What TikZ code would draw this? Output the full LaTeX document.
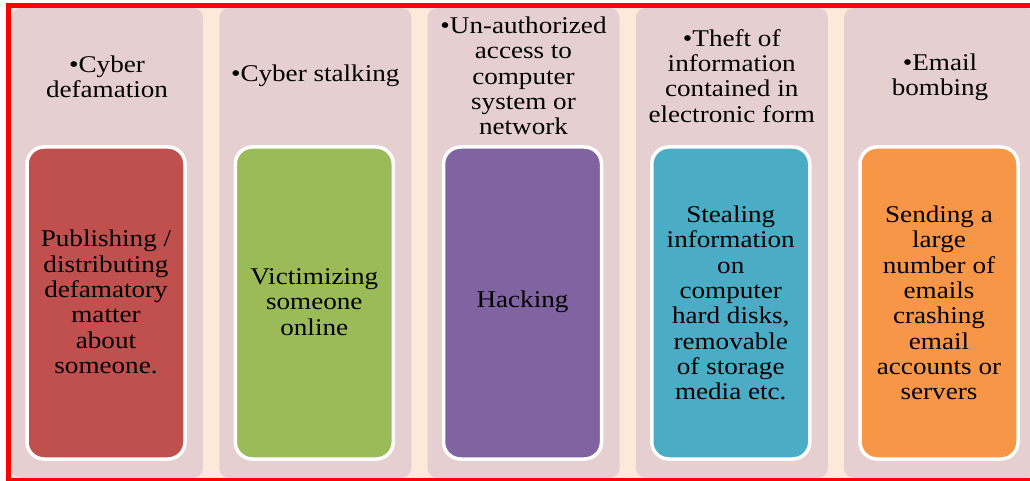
\documentclass[tikz,border=0pt]{standalone}
\usepackage{fontspec}
\setmainfont{Liberation Serif}[FakeStretch=1.13]
\definecolor{peach}{HTML}{FDE9D9}
\definecolor{colpink}{HTML}{E6CFD1}
\definecolor{cred}{HTML}{C0504D}
\definecolor{cgreen}{HTML}{9BBB59}
\definecolor{cpurple}{HTML}{8064A2}
\definecolor{caqua}{HTML}{4BACC6}
\definecolor{corange}{HTML}{F79646}
\tikzset{
  colbox/.style={fill=colpink, rounded corners=10pt},
  innerbox/.style={draw=white, line width=3.5pt, rounded corners=17pt},
  txt/.style={align=center, text=black, inner sep=0pt, font=\fontsize{24}{25.3}\selectfont},
}
\begin{document}
\begin{tikzpicture}[x=1pt,y=-1pt]
\useasboundingbox (0,0) rectangle (1030,481);
\clip (0,0) rectangle (1030,481);
\fill[peach] (8.5,6) rectangle (1045,480);
\foreach \i/\c in {0/cred,1/cgreen,2/cpurple,3/caqua,4/corange}{
  \pgfmathsetmacro{\L}{11+208.25*\i}
  \fill[colbox] (\L,8) rectangle ++(192,470);
  \filldraw[innerbox, fill=\c] (\L+16,147) rectangle ++(158,312);
}
\draw[red, line width=5pt] (1045,6) -- (8.5,6) -- (8.5,480) -- (1045,480);
% headers
\node[txt] (h1) at (107,77) {•Cyber\\defamation};
\node[txt] (h2) at (315.25,76) {•Cyber stalking};
\node[txt] (h3) at (523.5,76) {•Un-authorized\\access to\\computer\\system or\\network};
\node[txt] (h4) at (731.75,76) {•Theft of\\information\\contained in\\electronic form};
\node[txt] (h5) at (940,77) {•Email\\bombing};
% inner texts
\node[txt] (b1) at (106,302) {Publishing /\\distributing\\defamatory\\matter\\about\\someone.};
\node[txt] (b2) at (314.25,302) {Victimizing\\someone\\online};
\node[txt] (b3) at (522.5,302) {Hacking};
\node[txt] (b4) at (730.75,303) {Stealing\\information\\on\\computer\\hard disks,\\removable\\of storage\\media etc.};
\node[txt] (b5) at (939,303) {Sending a\\large\\number of\\emails\\crashing\\email\\accounts or\\servers};
\end{tikzpicture}
\end{document}
